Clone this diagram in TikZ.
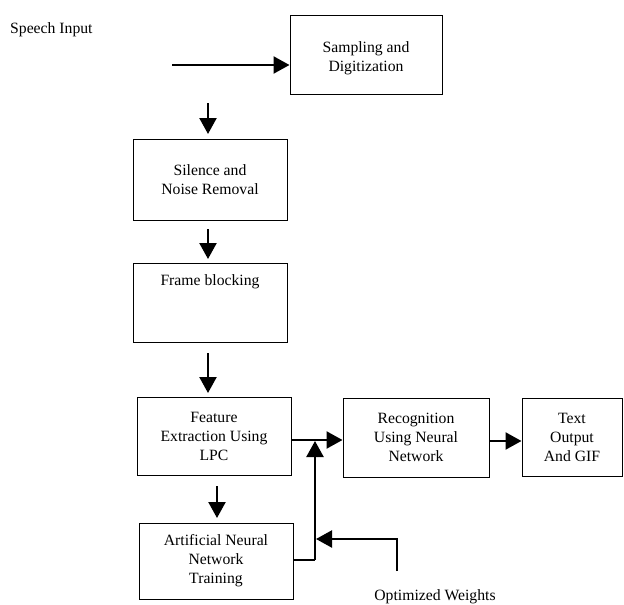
\documentclass[tikz,border=0pt]{standalone}
\usepackage{fontspec}
\setmainfont{Liberation Serif}
\usetikzlibrary{arrows.meta}
\begin{document}
\begin{tikzpicture}[x=1pt,y=-1pt,
  box/.style={draw, line width=1pt, inner sep=0pt, align=center, font=\fontsize{15.7}{19}\selectfont},
  lbl/.style={inner sep=0pt, align=center, font=\fontsize{15.7}{19}\selectfont},
  arr/.style={line width=2.3pt, -{Triangle[length=16pt,width=17pt]}},
  conn/.style={line width=2.3pt}]
\useasboundingbox (0,0) rectangle (624,605);
% boxes
\node[box, minimum width=152pt, minimum height=79pt] (samp) at (366,54.5) {};
\node[lbl] (samptxt) at (366,58.5) {Sampling and\\Digitization};
\node[box, minimum width=154pt, minimum height=81pt] (sil) at (210,179.5) {Silence and\\Noise Removal};
\node[box, minimum width=154pt, minimum height=79pt] (frame) at (210,302.5) {};
\node[lbl] (frametxt) at (210,282) {Frame blocking};
\node[box, minimum width=154pt, minimum height=78pt] (feat) at (214,436) {Feature\\Extraction Using\\LPC};
\node[box, minimum width=146pt, minimum height=79pt] (recog) at (416,437.5) {Recognition\\Using Neural\\Network};
\node[box, minimum width=100pt, minimum height=78pt] (txt) at (572,437) {Text\\Output\\And GIF};
\node[box, minimum width=154pt, minimum height=76pt] (ann) at (216,561) {Artificial Neural\\Network\\Training};
% labels
\node[lbl, anchor=west] (speech) at (10,30) {Speech Input};
\node[lbl] (opt) at (435,597) {Optimized Weights};
% coordinates
\coordinate (sin) at (172,65);
\coordinate (d1a) at (208,103); \coordinate (d1b) at (208,134);
\coordinate (d2a) at (208,229); \coordinate (d2b) at (208,259);
\coordinate (d3a) at (208,353); \coordinate (d3b) at (208,393);
\coordinate (d4a) at (217,486); \coordinate (d4b) at (217,518);
\coordinate (fe) at (291,440);
\coordinate (re) at (489,441);
\coordinate (j) at (315,560);
\coordinate (jt) at (315,441);
\coordinate (o1) at (397,571);
\coordinate (o2) at (397,539);
\coordinate (o3) at (316,539);
% connectors
\draw[arr] (sin) -- (sin -| samp.west);
\draw[arr] (d1a) -- (d1b);
\draw[arr] (d2a) -- (d2b);
\draw[arr] (d3a) -- (d3b);
\draw[arr] (d4a) -- (d4b);
\draw[arr] (fe) -- (fe -| recog.west);
\draw[arr] (re) -- (re -| txt.west);
\draw[conn] (ann.east |- j) -- (j);
\draw[arr] (j) -- (jt);
\draw[arr] (o1) -- (o2) -- (o3);
\end{tikzpicture}
\end{document}
